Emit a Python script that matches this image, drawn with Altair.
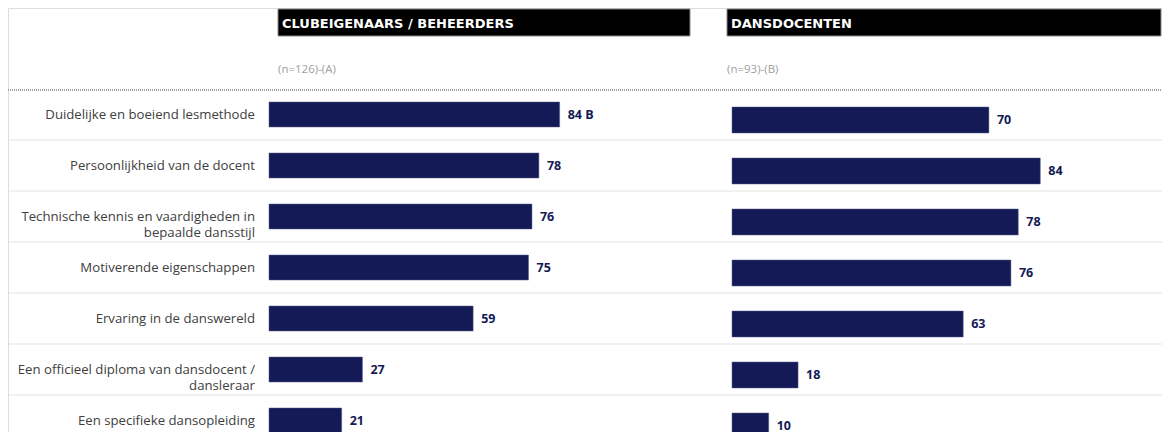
import altair as alt
import pandas as pd

categories = [
    "Duidelijke en boeiend lesmethode",
    "Persoonlijkheid van de docent",
    "Technische kennis en vaardigheden in\nbepaalde dansstijl",
    "Motiverende eigenschappen",
    "Ervaring in de danswereld",
    "Een officieel diploma van dansdocent /\ndansleraar",
    "Een specifieke dansopleiding",
]
club_values = [84, 78, 76, 75, 59, 27, 21]
club_sig = ["B", "", "", "", "", "", ""]
docent_values = [70, 84, 78, 76, 63, 18, 10]

title_a = "CLUBEIGENAARS / BEHEERDERS"
title_b = "DANSDOCENTEN"
sub_a = "(n=126)-(A)"
sub_b = "(n=93)-(B)"

NAVY = "#131a55"
W, H = 1154, 424

df = pd.DataFrame({
    "cat": categories,
    "club": club_values,
    "docent": docent_values,
    "club_lbl": [f"{v} {s}".strip() for v, s in zip(club_values, club_sig)],
    "docent_lbl": [str(v) for v in docent_values],
    "idx": list(range(len(categories))),
})

order = categories
yA = alt.Scale(domain=order, range=[81, 438], paddingInner=0.51, paddingOuter=0.255)
yB = alt.Scale(domain=order, range=[86.5, 443.5], paddingInner=0.49, paddingOuter=0.245)
xA = alt.Scale(domain=[0, 100], range=[261, 607])
xB = alt.Scale(domain=[0, 100], range=[724, 1091])

base = alt.Chart(df)

sep = base.transform_filter("datum.idx < 6").mark_rule(
    color="#ececec", strokeWidth=1.5, yOffset=25.5
).encode(
    y=alt.Y("cat:N", scale=yA, axis=None, sort=order),
    x=alt.value(1), x2=alt.value(W),
)

dotted = alt.Chart(pd.DataFrame({"d": [0]})).mark_rule(
    color="#a0a0a0", strokeWidth=2, strokeDash=[1, 1]
).encode(y=alt.value(82), x=alt.value(0), x2=alt.value(W))

barsA = base.mark_bar(color=NAVY, stroke="#5a5f88", strokeWidth=0.5).encode(
    y=alt.Y("cat:N", scale=yA, axis=None, sort=order),
    x=alt.X("club:Q", scale=xA, axis=None),
)
txtA = base.mark_text(align="left", dx=8, font="Open Sans", fontWeight="bold",
                      fontSize=12.5, color=NAVY).encode(
    y=alt.Y("cat:N", scale=yA, axis=None, sort=order),
    x=alt.X("club:Q", scale=xA, axis=None),
    text="club_lbl:N",
)
barsB = base.mark_bar(color=NAVY, stroke="#5a5f88", strokeWidth=0.5).encode(
    y=alt.Y("cat:N", scale=yB, axis=None, sort=order),
    x=alt.X("docent:Q", scale=xB, axis=None),
)
txtB = base.mark_text(align="left", dx=8, font="Open Sans", fontWeight="bold",
                      fontSize=12.5, color=NAVY).encode(
    y=alt.Y("cat:N", scale=yB, axis=None, sort=order),
    x=alt.X("docent:Q", scale=xB, axis=None),
    text="docent_lbl:N",
)
labels = base.mark_text(align="right", baseline="middle", lineBreak="\n",
                        lineHeight=16, font="Open Sans", fontSize=13.2,
                        color="#404040").encode(
    y=alt.Y("cat:N", scale=yA, axis=None, sort=order),
    x=alt.value(247),
    text="cat:N",
)

boxA = alt.Chart(pd.DataFrame({"t": [title_a]})).mark_rect(
    color="black", stroke="#888", strokeWidth=1
).encode(x=alt.value(270), x2=alt.value(682), y=alt.value(1), y2=alt.value(28))
boxB = alt.Chart(pd.DataFrame({"t": [title_b]})).mark_rect(
    color="black", stroke="#888", strokeWidth=1
).encode(x=alt.value(719), x2=alt.value(1153), y=alt.value(1), y2=alt.value(28))
tA = alt.Chart(pd.DataFrame({"t": [title_a]})).mark_text(
    align="left", baseline="middle", font="DejaVu Sans", fontWeight="bold",
    fontSize=13, color="white"
).encode(x=alt.value(274), y=alt.value(16), text="t:N")
tB = alt.Chart(pd.DataFrame({"t": [title_b]})).mark_text(
    align="left", baseline="middle", font="DejaVu Sans", fontWeight="bold",
    fontSize=13, color="white"
).encode(x=alt.value(723), y=alt.value(16), text="t:N")
sA = alt.Chart(pd.DataFrame({"t": [sub_a]})).mark_text(
    align="left", baseline="middle", font="Open Sans", fontSize=11.5, color="#a0a0a0"
).encode(x=alt.value(270), y=alt.value(62), text="t:N")
sB = alt.Chart(pd.DataFrame({"t": [sub_b]})).mark_text(
    align="left", baseline="middle", font="Open Sans", fontSize=11.5, color="#a0a0a0"
).encode(x=alt.value(719), y=alt.value(62), text="t:N")

chart = alt.layer(
    sep, dotted, barsA, txtA, barsB, txtB, labels, boxA, boxB, tA, tB, sA, sB
).resolve_scale(x="independent", y="independent").properties(
    width=W, height=H, padding=0,
    autosize=alt.AutoSizeParams(type="none"),
).configure_view(stroke=None).configure(background="white")

chart.save("out.html", embed_options={"renderer": "svg", "actions": False})
